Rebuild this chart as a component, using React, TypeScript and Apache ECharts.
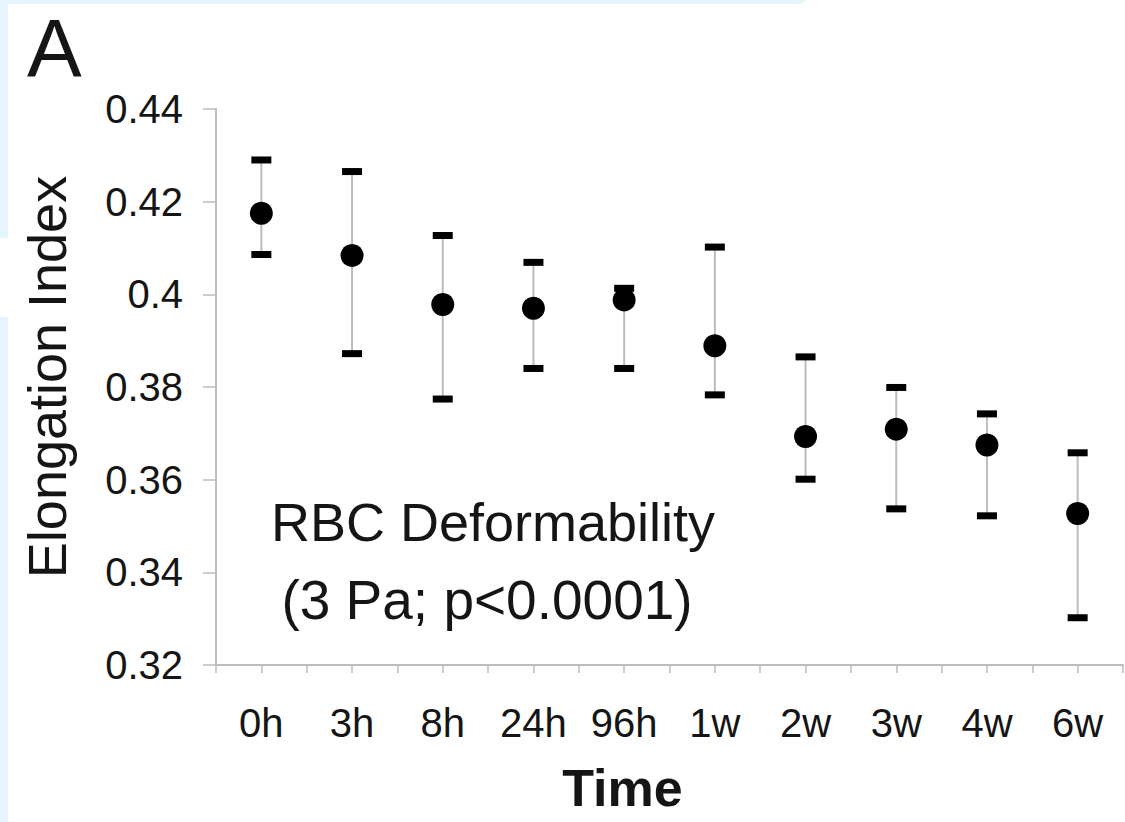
import React, { useEffect, useRef } from "react";
import * as echarts from "echarts";

const categories = ["0h", "3h", "8h", "24h", "96h", "1w", "2w", "3w", "4w", "6w"];
const means = [0.4175, 0.4084, 0.3978, 0.397, 0.3988, 0.3889, 0.3693, 0.3709, 0.3675, 0.3527];
const upper = [0.429, 0.4265, 0.4127, 0.4069, 0.4013, 0.4102, 0.3865, 0.3799, 0.3742, 0.3658];
const lower = [0.4086, 0.3872, 0.3774, 0.384, 0.384, 0.3783, 0.3601, 0.3537, 0.3522, 0.3302];
const yMin = 0.32;
const yMax = 0.44;
const yStep = 0.02;
const panelLabel = "A";
const annotationLines = ["RBC Deformability", "(3 Pa; p<0.0001)"];
const xTitle = "Time";
const yTitle = "Elongation Index";

const FONT = "'Liberation Sans', Arial, Helvetica, sans-serif";
const AXIS_GREY = "#bdbdbd";
const TEXT = "#151515";

export default function App() {
  const ref = useRef<HTMLDivElement>(null);

  useEffect(() => {
    if (!ref.current) return;
    const chart = echarts.init(ref.current, undefined, { renderer: "svg" });

    const errData = categories.map((_, i) => [i, lower[i], upper[i]]);
    const meanData = categories.map((c, i) => [i, means[i]]);

    const option: any = {
      animation: false,
      backgroundColor: "#ffffff",
      grid: { left: 216, right: 2, top: 109, bottom: 157, containLabel: false },
      xAxis: [
        {
          type: "category",
          data: categories,
          position: "bottom",
          boundaryGap: true,
          axisLine: { show: true, lineStyle: { color: AXIS_GREY, width: 2 } },
          axisTick: { show: true, interval: 0, length: 8, lineStyle: { color: AXIS_GREY, width: 1.5 } },
          axisLabel: {
            show: true,
            interval: 0,
            margin: 38,
            fontSize: 40,
            fontFamily: FONT,
            color: TEXT,
          },
          splitLine: { show: false },
          name: xTitle,
          nameLocation: "middle",
          nameGap: 97,
          nameTextStyle: {
            fontSize: 52,
            fontWeight: "bold",
            fontFamily: FONT,
            color: TEXT,
            padding: [0, 94, 0, 0],
          },
        },
        {
          type: "category",
          data: categories,
          position: "bottom",
          boundaryGap: true,
          axisLine: { show: false },
          axisTick: { show: true, alignWithLabel: true, interval: 0, length: 8, lineStyle: { color: AXIS_GREY, width: 1.5 } },
          axisLabel: { show: false },
          splitLine: { show: false },
        },
      ],
      yAxis: {
        type: "value",
        min: yMin,
        max: yMax,
        interval: yStep,
        axisLine: { show: true, lineStyle: { color: AXIS_GREY, width: 2 } },
        axisTick: { show: true, length: 13, lineStyle: { color: AXIS_GREY, width: 1.5 } },
        axisLabel: {
          margin: 33,
          fontSize: 40,
          fontFamily: FONT,
          color: TEXT,
          formatter: (v: number) => String(parseFloat(v.toFixed(2))),
        },
        splitLine: { show: false },
        name: yTitle,
        nameLocation: "middle",
        nameRotate: 90,
        nameGap: 142,
        nameTextStyle: {
          fontSize: 54,
          fontFamily: FONT,
          color: TEXT,
          padding: [0, 0, 0, 20],
        },
      },
      graphic: [
        { type: "rect", z: -10, shape: { x: 0, y: 0, width: 8, height: 238 }, style: { fill: "#e6f4fb" } },
        { type: "rect", z: -10, shape: { x: 0, y: 317, width: 8, height: 505 }, style: { fill: "#e6f4fb" } },
        {
          type: "polygon",
          z: -10,
          shape: { points: [[0, 0], [806, 0], [801, 4], [0, 4]] },
          style: { fill: "#e6f4fb" },
        },
        {
          type: "text",
          x: 27,
          y: 47,
          style: {
            text: panelLabel,
            fontSize: 82,
            fontFamily: FONT,
            fill: TEXT,
            textAlign: "left",
            textVerticalAlign: "middle",
          },
        },
        {
          type: "text",
          x: 493,
          y: 522,
          style: {
            text: annotationLines[0],
            fontSize: 54,
            fontFamily: FONT,
            fill: TEXT,
            textAlign: "center",
            textVerticalAlign: "middle",
          },
        },
        {
          type: "text",
          x: 487,
          y: 600,
          style: {
            text: annotationLines[1],
            fontSize: 55,
            fontFamily: FONT,
            fill: TEXT,
            textAlign: "center",
            textVerticalAlign: "middle",
          },
        },
      ],
      series: [
        {
          type: "custom",
          xAxisIndex: 0,
          data: errData,
          encode: { x: 0, y: [1, 2] },
          renderItem: (params: any, api: any) => {
            const idx = api.value(0);
            const lo = api.coord([idx, api.value(1)]);
            const hi = api.coord([idx, api.value(2)]);
            const capW = 20;
            const capH = 7;
            return {
              type: "group",
              children: [
                {
                  type: "line",
                  shape: { x1: hi[0], y1: hi[1], x2: lo[0], y2: lo[1] },
                  style: { stroke: "#bcbcbc", lineWidth: 2 },
                },
                {
                  type: "rect",
                  shape: { x: hi[0] - capW / 2, y: hi[1] - capH / 2, width: capW, height: capH },
                  style: { fill: "#000000" },
                },
                {
                  type: "rect",
                  shape: { x: lo[0] - capW / 2, y: lo[1] - capH / 2, width: capW, height: capH },
                  style: { fill: "#000000" },
                },
              ],
            };
          },
          z: 2,
        },
        {
          type: "scatter",
          xAxisIndex: 0,
          data: meanData,
          symbol: "circle",
          symbolSize: 23,
          itemStyle: { color: "#000000", opacity: 1 },
          emphasis: { disabled: true },
          z: 3,
        },
      ],
    };

    chart.setOption(option);
    return () => chart.dispose();
  }, []);

  return (
    <div
      ref={ref}
      style={{ position: "fixed", left: 0, top: 0, width: 1125, height: 822, background: "#ffffff" }}
    />
  );
}
